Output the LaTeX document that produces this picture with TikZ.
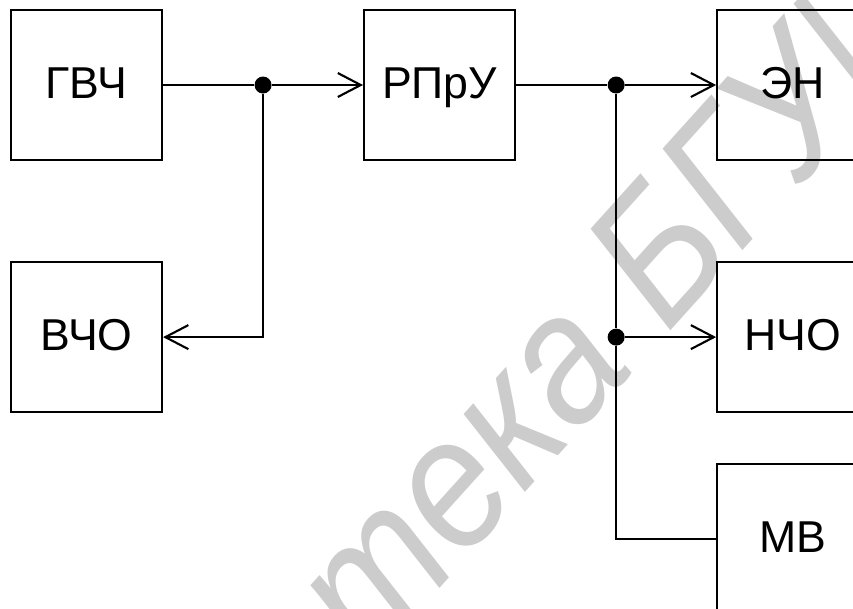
\documentclass[tikz,border=0pt]{standalone}
\usepackage{fontspec}
\setmainfont{Liberation Sans}
\usetikzlibrary{arrows.meta,positioning,calc}
\definecolor{wmgray}{HTML}{CCCCCC}
\tikzset{
  block/.style={draw, line width=0.6pt, minimum width=1.51cm, minimum height=1.5cm,
    inner sep=0pt, font=\fontsize{12.7}{15}\selectfont, text height=0.32cm, text depth=0.05cm},
  junc/.style={circle, fill, inner sep=0pt, minimum size=0.17cm},
  link/.style={line width=0.6pt},
  arr/.style={link, -{Straight Barb[length=0.23cm, width=0.24cm]}},
  wmark/.style={text=wmgray, font=\itshape\fontsize{47}{52}\selectfont,
    rotate=48, yscale=1.12, anchor=base west, inner sep=0pt}
}
\begin{document}
\begin{tikzpicture}
\useasboundingbox (0,0) rectangle (8.53,-6.08);
\clip (0,0) rectangle (8.53,-6.08);

% watermark
\node[wmark] (wm) at (-0.09,-10.86) {Библиотека БГУИР};

\node[block] (gvch) at (0.865,-0.85) {ГВЧ};
\node[block, below=1cm of gvch] (vcho) {ВЧО};
\node[block, right=2cm of gvch] (rpru) {РПрУ};
\node[block, right=2cm of rpru] (en) {ЭН};
\node[block, below=1cm of en] (ncho) {НЧО};
\node[block, below=0.5cm of ncho] (mv) {МВ};

\node[junc] (j1) at ($(gvch.east)!0.5!(rpru.west)$) {};
\node[junc] (j2) at ($(rpru.east)!0.5!(en.west)$) {};
\node[junc] (j3) at (j2 |- ncho) {};

\draw[link] (gvch) -- (j1);
\draw[arr] (j1) -- (rpru);
\draw[arr] (j1) |- (vcho);
\draw[link] (rpru) -- (j2);
\draw[arr] (j2) -- (en);
\draw[link] (j2) -- (j3);
\draw[arr] (j3) -- (ncho);
\draw[link] (j3) |- (mv);

\end{tikzpicture}
\end{document}
